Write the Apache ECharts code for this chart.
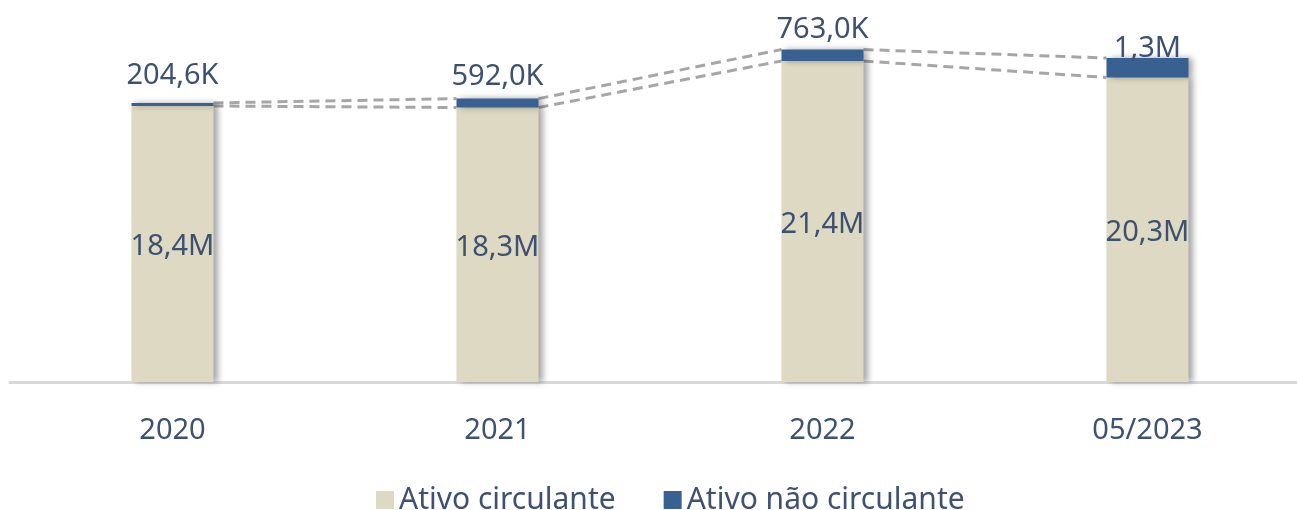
<!DOCTYPE html>
<html>
<head>
<meta charset="utf-8">
<script src="https://cdn.jsdelivr.net/npm/echarts@6/dist/echarts.min.js"></script>
<style>
  html, body { margin: 0; padding: 0; background: #fff; overflow: hidden; }
  #chart { width: 1310px; height: 510px; }
</style>
</head>
<body>
<div id="chart"></div>
<script>
const categories = ['2020', '2021', '2022', '05/2023'];
const ativoCirculante = [18400000, 18300000, 21400000, 20300000];
const ativoNaoCirculante = [204600, 592000, 763000, 1300000];

const textColor = '#3e5170';
const fontFamily = 'Noto Sans';
const barWidth = 82;
// the top labels in the original were nudged by hand
const topLabelNudge = [-11, -5, -3, 7];

function fmt(v) {
  if (v >= 1e6) return (v / 1e6).toFixed(1).replace('.', ',') + 'M';
  return (v / 1e3).toFixed(1).replace('.', ',') + 'K';
}

// series lines between neighbouring bars (top of each stack segment)
const seriesLines = [];
for (let i = 0; i < categories.length - 1; i++) {
  seriesLines.push([i, ativoCirculante[i], ativoCirculante[i + 1]]);
  seriesLines.push([
    i,
    ativoCirculante[i] + ativoNaoCirculante[i],
    ativoCirculante[i + 1] + ativoNaoCirculante[i + 1]
  ]);
}

const chart = echarts.init(document.getElementById('chart'));
const barShadow = {
  shadowColor: 'rgba(0,0,0,0.35)',
  shadowBlur: 6,
  shadowOffsetX: 4,
  shadowOffsetY: 0
};

chart.setOption({
  animation: false,
  grid: { left: 10, right: 0, top: 22, height: 360 },
  legend: {
    top: 480,
    left: 371,
    itemWidth: 18,
    itemHeight: 18,
    itemGap: 48,
    icon: 'rect',
    textStyle: { color: textColor, fontSize: 30, fontFamily },
    data: ['Ativo circulante', 'Ativo não circulante']
  },
  xAxis: {
    type: 'category',
    data: categories,
    axisTick: { show: false },
    axisLine: { lineStyle: { color: '#d9d9d9', width: 3 } },
    axisLabel: { color: textColor, fontSize: 29, fontFamily, margin: 34 }
  },
  yAxis: {
    type: 'value',
    min: 0,
    max: 24000000,
    show: false,
    splitLine: { show: false }
  },
  series: [
    {
      name: 'Ativo circulante',
      type: 'bar',
      stack: 'total',
      barWidth,
      data: ativoCirculante,
      itemStyle: Object.assign({ color: '#ddd9c3' }, barShadow),
      label: {
        show: true,
        position: 'inside',
        offset: [0, 3],
        color: textColor,
        fontSize: 29,
        fontFamily,
        formatter: p => fmt(p.value)
      }
    },
    {
      name: 'Ativo não circulante',
      type: 'bar',
      stack: 'total',
      barWidth,
      data: ativoNaoCirculante.map((v, i) => ({
        value: v,
        label: { offset: [0, topLabelNudge[i]] }
      })),
      itemStyle: Object.assign({ color: '#386192' }, barShadow),
      label: {
        show: true,
        position: 'top',
        distance: 2,
        color: textColor,
        fontSize: 29,
        fontFamily,
        formatter: p => fmt(p.value)
      }
    },
    {
      type: 'custom',
      silent: true,
      z: 1,
      data: seriesLines,
      encode: { x: 0, y: [1, 2] },
      renderItem(params, api) {
        const i = api.value(0);
        const p1 = api.coord([i, api.value(1)]);
        const p2 = api.coord([i + 1, api.value(2)]);
        const half = barWidth / 2;
        return {
          type: 'line',
          shape: { x1: p1[0] + half, y1: p1[1], x2: p2[0] - half, y2: p2[1] },
          style: { stroke: '#a6a6a6', lineWidth: 3, lineDash: [10, 6] }
        };
      }
    }
  ]
});
</script>
</body>
</html>
